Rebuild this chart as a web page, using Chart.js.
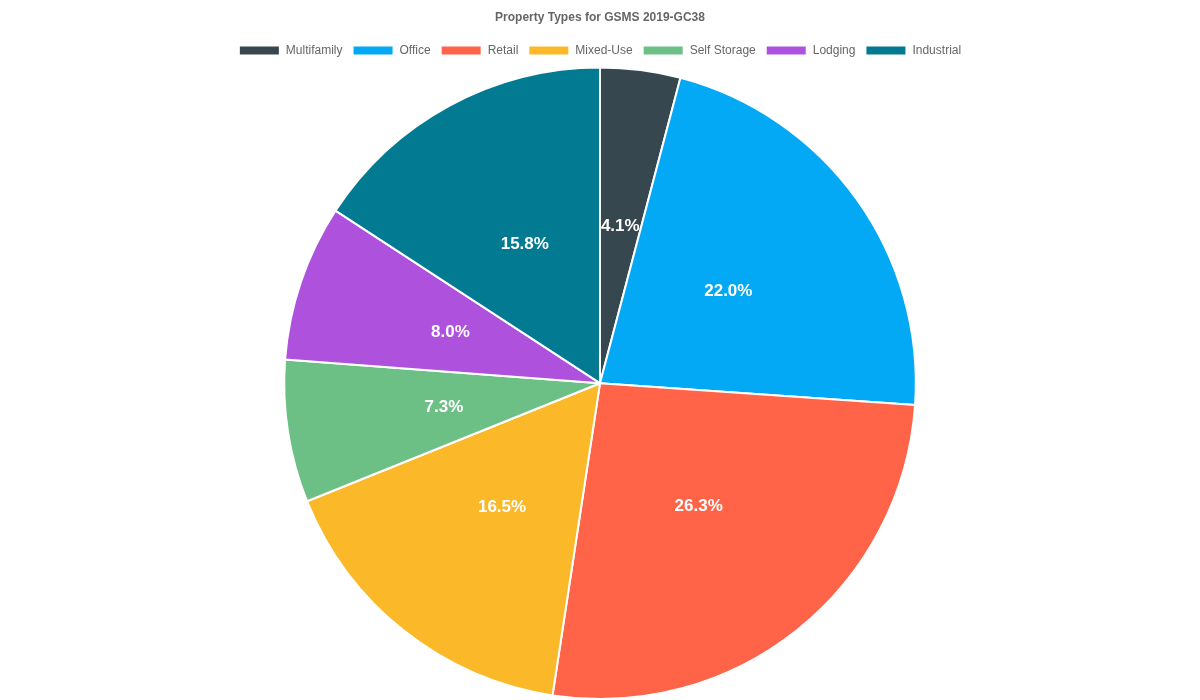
<!DOCTYPE html>
<html>
<head>
<meta charset="utf-8">
<script src="https://cdn.jsdelivr.net/npm/chart.js@4/dist/chart.umd.min.js"></script>
<style>
  html, body { margin: 0; padding: 0; background: #fff; }
  #wrap { width: 1200px; height: 700px; }
</style>
</head>
<body>
<div id="wrap"><canvas id="pieChart"></canvas></div>
<script>
const categories = ['Multifamily', 'Office', 'Retail', 'Mixed-Use', 'Self Storage', 'Lodging', 'Industrial'];
const shares = [4.1, 22.0, 26.3, 16.5, 7.3, 8.0, 15.8];
const colors = ['#37474f', '#03a9f4', '#ff6348', '#fbb829', '#6cc086', '#ae52de', '#027a91'];

// draws the percentage text in the middle of each slice
const sliceLabels = {
    id: 'sliceLabels',
    afterDatasetsDraw(chart) {
        const ctx = chart.ctx;
        const meta = chart.getDatasetMeta(0);
        ctx.save();
        ctx.font = 'bold 17px "Liberation Sans", Arial, sans-serif';
        ctx.fillStyle = '#fff';
        ctx.textAlign = 'center';
        ctx.textBaseline = 'middle';
        meta.data.forEach((arc, i) => {
            const p = arc.tooltipPosition();
            ctx.fillText(shares[i].toFixed(1) + '%', p.x, p.y);
        });
        ctx.restore();
    }
};

const ctx = document.getElementById('pieChart').getContext('2d');
new Chart(ctx, {
    type: 'pie',
    data: {
        labels: categories,
        datasets: [{
            data: shares,
            backgroundColor: colors,
            borderColor: '#fff',
            borderWidth: 2
        }]
    },
    options: {
        responsive: true,
        maintainAspectRatio: false,
        animation: false,
        layout: { padding: 0 },
        plugins: {
            title: {
                display: true,
                text: 'Property Types for GSMS 2019-GC38',
                color: '#666',
                font: { family: '"Liberation Sans", Arial, sans-serif', size: 12, weight: 'bold' },
                padding: { top: 10, bottom: 10 }
            },
            legend: {
                position: 'top',
                labels: {
                    color: '#666',
                    boxWidth: 41,
                    boxHeight: 10,
                    font: { family: '"Liberation Sans", Arial, sans-serif', size: 12 }
                }
            },
            tooltip: { enabled: false }
        }
    },
    plugins: [sliceLabels]
});
</script>
</body>
</html>
